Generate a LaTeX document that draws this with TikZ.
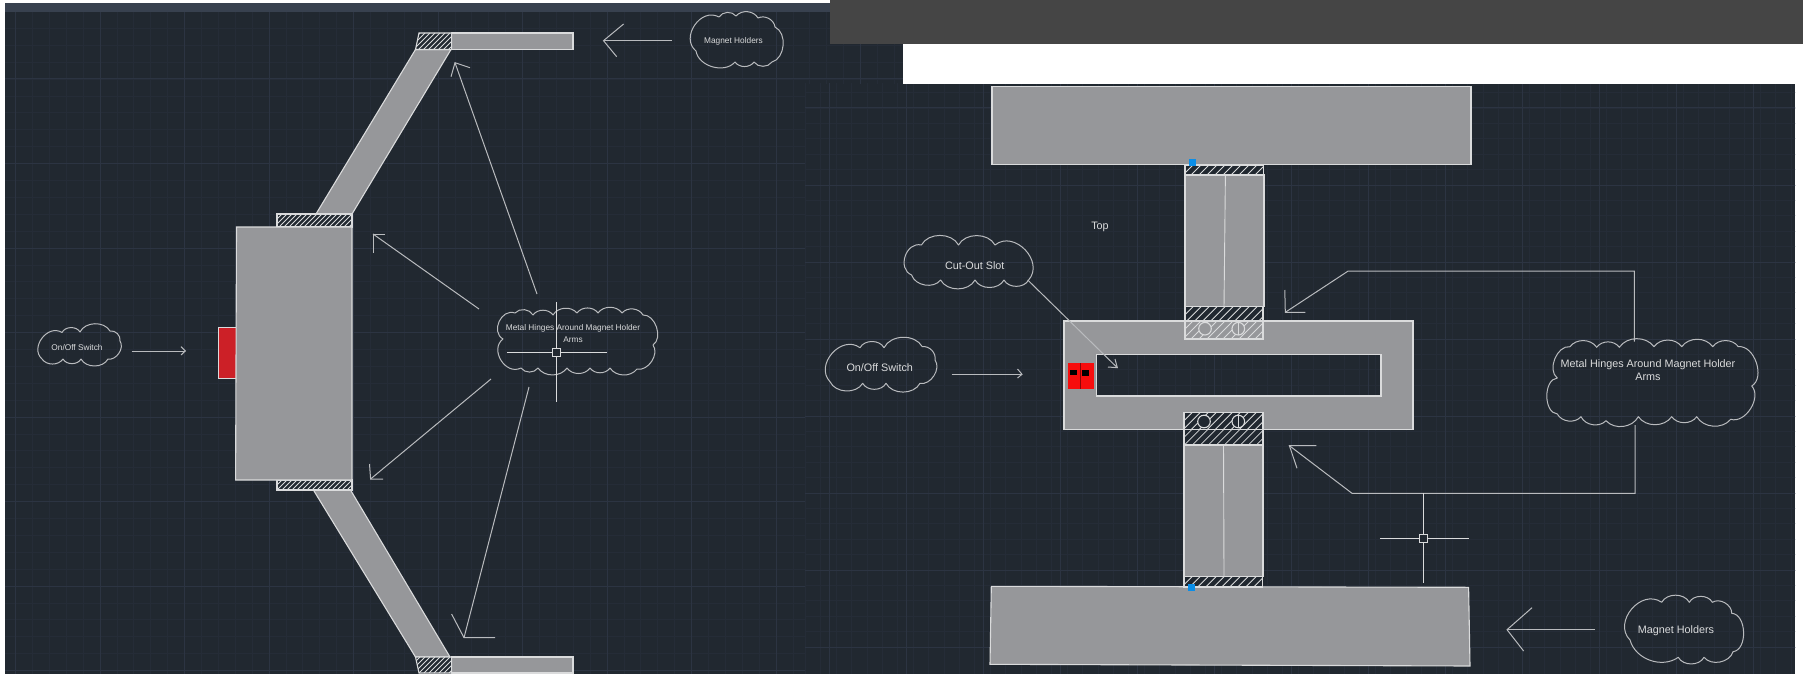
\documentclass[tikz,border=0pt]{standalone}
\usepackage{fontspec}
\setmainfont{Liberation Sans}
\definecolor{panel}{HTML}{212830}
\definecolor{gridmaj}{HTML}{2C3442}
\definecolor{gridmin}{HTML}{252C37}
\definecolor{barcol}{HTML}{38414F}
\definecolor{band}{HTML}{454545}
\definecolor{steel}{HTML}{96979A}
\definecolor{inkline}{HTML}{DADBDC}
\definecolor{softline}{HTML}{B9BBBE}
\definecolor{switchL}{HTML}{CC2027}
\definecolor{switchR}{HTML}{F70D0D}
\definecolor{grip}{HTML}{0A8EE8}
\tikzset{
  part/.style={fill=steel,draw=inkline,line width=1.1pt,line join=miter},
  hatchbg/.style={fill=panel,draw=inkline,line width=1.1pt},
  hatchln/.style={draw=inkline,line width=0.8pt},
  cloudln/.style={draw=softline,line width=1pt,line join=round},
  leadln/.style={draw=softline,line width=1pt,line join=miter},
  smalltxt/.style={text=inkline,inner sep=0pt,text height=6pt,text depth=0pt,font=\fontsize{8.3}{10}\selectfont},
  bigtxt/.style={text=inkline,inner sep=0pt,text height=7.8pt,text depth=0pt,font=\fontsize{10.8}{13}\selectfont},
  cursor/.style={draw=inkline,line width=1pt},
  wide/.style={bend left=85,looseness=1.3},
}
\usetikzlibrary{calc}
% hatching inside a rectangle: x1,y1,x2,y2,spacing
\newcommand{\hatchrect}[5]{%
  \begin{scope}
    \clip (#1,#2) rectangle (#3,#4);
    \pgfmathsetmacro{\hh}{abs(#4-#2)}
    \pgfmathsetmacro{\hs}{#1-\hh}
    \pgfmathsetmacro{\ht}{\hs+#5}
    \pgfmathsetmacro{\he}{#3+1}
    \foreach \q in {\hs,\ht,...,\he}
      \draw[hatchln] (\q,#4) -- ++(\hh,-\hh);
  \end{scope}}
% leader: name, start, tip, barb a, barb b
\newcommand{\leader}[5]{%
  \coordinate (#1-s) at #2;
  \coordinate (#1-t) at #3;
  \coordinate (#1-a) at #4;
  \coordinate (#1-b) at #5;
  \draw[leadln] (#1-s) -- (#1-t);
  \draw[leadln] (#1-a) -- (#1-t) -- (#1-b);}
% crosshair: name, x, y, half-left, half-right, half-up, half-down
\newcommand{\crosshair}[7]{%
  \coordinate (#1) at (#2,#3);
  \draw[cursor] ($(#1)+(-#4,0)$) -- ($(#1)+(#5,0)$);
  \draw[cursor] ($(#1)+(0,-#6)$) -- ($(#1)+(0,#7)$);
  \draw[cursor,fill=panel] ($(#1)+(-4,-4)$) rectangle ($(#1)+(4,4)$);}
\begin{document}
\begin{tikzpicture}[x=1pt,y=-1pt]
\useasboundingbox (0,0) rectangle (1803,674);
\fill[white] (0,0) rectangle (1803,674);
% ---------- left panel
\fill[panel] (5,3) rectangle (903,674);
\begin{scope}
  \clip (5,12) rectangle (903,674);
  \foreach \i in {0,...,53} {
    \draw[gridmin,line width=.7pt] ({15.5+\i*16.9},0) -- ++(0,674);
  }
  \foreach \i in {-1,...,40} {
    \draw[gridmin,line width=.7pt] (0,{-5.5+\i*16.9}) -- ++(903,0);
  }
  \foreach \i in {0,...,10} {
    \draw[gridmaj,line width=1pt] ({15.5+\i*84.5},0) -- ++(0,674);
  }
  \foreach \i in {0,...,8} {
    \draw[gridmaj,line width=1pt] (0,{-5.5+\i*84.5}) -- ++(903,0);
  }
\end{scope}
\fill[barcol] (5,3) rectangle (830,12);
% ---------- right panel
\fill[panel] (805,84) rectangle (1795,674);
\begin{scope}
  \clip (805,84) rectangle (1795,674);
  \foreach \i in {0,...,66} {
    \draw[gridmin,line width=.7pt] ({790+\i*15.4},0) -- ++(0,674);
  }
  \foreach \i in {0,...,40} {
    \draw[gridmin,line width=.7pt] (800,{31+\i*15.4}) -- ++(1000,0);
  }
  \foreach \i in {0,...,13} {
    \draw[gridmaj,line width=1pt] ({829+\i*77},0) -- ++(0,674);
  }
  \foreach \i in {0,...,8} {
    \draw[gridmaj,line width=1pt] (800,{31+\i*77}) -- ++(1000,0);
  }
\end{scope}
% ---------- header blocks
\fill[band] (830,0) rectangle (1803,44);
\fill[white] (903,44) rectangle (1803,84);

% ========== LEFT DRAWING
% arms
\draw[part] (415.5,49.5) -- (451,49.5) -- (352,214) -- (316,214) -- cycle;
\draw[part] (313.4,490) -- (350.5,490) -- (450,657) -- (415.5,657) -- cycle;
% holders
\draw[part] (451.6,33) rectangle (573,49.5);
\draw[part] (451.6,657) rectangle (573,673);
% hatched end pieces
\begin{scope}
  \clip (419,33) -- (451.6,33) -- (451.6,49.5) -- (415.5,49.5) -- cycle;
  \fill[panel] (410,30) rectangle (455,52);
  \hatchrect{410}{33}{452}{49.5}{5}
\end{scope}
\draw[hatchbg,fill=none] (419,33) -- (451.6,33) -- (451.6,49.5) -- (415.5,49.5) -- cycle;
\begin{scope}
  \clip (415.5,657) -- (451.6,657) -- (451.6,673) -- (419,673) -- cycle;
  \fill[panel] (410,655) rectangle (455,674);
  \hatchrect{410}{657}{452}{673}{5}
\end{scope}
\draw[hatchbg,fill=none] (415.5,657) -- (451.6,657) -- (451.6,673) -- (419,673) -- cycle;
% hinges
\draw[hatchbg] (277,214) rectangle (352,227);
\hatchrect{277}{214}{352}{227}{5}
\draw[hatchbg] (277,480) rectangle (352,490);
\hatchrect{277}{480}{352}{490}{5}
% switch and body
\draw[fill=switchL,draw=inkline,line width=1pt] (218,327) rectangle (237,378.5);
\draw[part] (236.5,227) -- (352,227) -- (352,480) -- (235.6,480) -- cycle;

% clouds left
\draw[cloudln] (62,332.5) to[bend left=62] (80,332) to[bend left=62] (110,331) to[bend left=55] (120,341)
  to[bend left=68] (108,359) to[bend left=62] (81,359) to[bend left=62] (63,359) to[bend left=55] (42,359) to[wide] cycle;
\node[smalltxt] (offL) at (77,347) {On/Off Switch};

\draw[cloudln] (719,17) to[bend left=55] (736,16) to[bend left=55] (758,18) to[bend left=55] (775,27)
  to[bend left=70] (772,62) to[bend left=55] (754,62) to[bend left=55] (735,62) to[bend left=65] (696,51) to[wide] cycle;
\node[smalltxt] (magL) at (733.5,40.5) {Magnet Holders};

\draw[cloudln] (515,313) to[bend left=55] (533,315) to[bend left=55] (553,315) to[bend left=55] (577,313)
  to[bend left=55] (598,313) to[bend left=55] (622,313) to[bend left=55] (643,315) to[bend left=75] (653,345)
  to[bend left=70] (637,369) to[bend left=55] (610,368) to[bend left=55] (590,368) to[bend left=55] (567,368)
  to[bend left=55] (538,368) to[bend left=55] (521,368) to[wide] (503,339) to[wide] cycle;
\node[smalltxt] (hingeL1) at (573,327.7) {Metal Hinges Around Magnet Holder};
\node[smalltxt] (hingeL2) at (573,339) {Arms};

% leaders left
\leader{lMag}{(672,40.7)}{(603.5,40.7)}{(623.6,24)}{(616.7,56.7)}
\leader{lUp}{(537,294)}{(455,62.7)}{(470,67.7)}{(451,76.7)}
\leader{lHingeT}{(479,309)}{(373,234)}{(385,234)}{(373,253)}
\leader{lHingeB}{(491,379)}{(370.6,479)}{(369.5,464)}{(383,479)}
\leader{lDown}{(529,387)}{(464,637.7)}{(451.6,614)}{(495,637.7)}
\leader{lOff}{(131.7,351)}{(185.3,351)}{(181,346.7)}{(181,355)}
\crosshair{curL}{556.7}{352.3}{50}{50}{50}{50}

% ========== RIGHT DRAWING
% body with slot (the grid shows through the slot)
\draw[part,even odd rule] (1064,321) rectangle (1413,429.3) (1096.7,354.3) rectangle (1381,396);
\draw[fill=switchR,draw=none] (1068.3,363.3) rectangle (1094,388.7);
\draw[draw=switchR!55!black,line width=.8pt] (1080.7,363.3) -- (1080.7,388.7);
\fill[black] (1070.3,370.3) rectangle (1076.7,374.7);
\fill[black] (1082.3,370.3) rectangle (1088.7,376);
% holders
\draw[part] (992,86.7) rectangle (1471,164.7);
\draw[part] (991.3,586.3) -- (1468.6,587.3) -- (1470,666) -- (990,664.3) -- cycle;
% upper arm
\draw[part] (1185,175) rectangle (1264,306.7);
\draw[draw=inkline,line width=.9pt] (1225.4,175) -- (1224,306.7);
\draw[hatchbg] (1185,165) rectangle (1263.4,175);
\hatchrect{1185}{165}{1263.4}{175}{8}
\draw[hatchbg] (1185,306.7) rectangle (1263,321);
\hatchrect{1185}{306.7}{1263}{321}{8}
\draw[part] (1185,321) rectangle (1263,339);
\hatchrect{1185}{321}{1263}{339}{8}
\draw[part,fill=steel] (1205,328.7) circle (6.3);
\draw[part,fill=steel] (1238.3,328.7) circle (6.3);
\draw[draw=inkline,line width=.9pt] (1238.3,322.4) -- (1238.3,335);
% lower arm
\draw[part] (1184,445) rectangle (1263,576.7);
\draw[draw=inkline,line width=.9pt] (1223.5,445) -- (1224,576.7);
\draw[hatchbg] (1184,412.7) rectangle (1263,429.3);
\hatchrect{1184}{412.7}{1263}{429.3}{8}
\draw[hatchbg] (1184,429.3) rectangle (1263,445);
\hatchrect{1184}{429.3}{1263}{445}{8}
\draw[hatchbg] (1204,421.5) circle (6.3);
\draw[hatchbg] (1238.3,421.5) circle (6.3);
\draw[draw=inkline,line width=.9pt] (1238.3,415.2) -- (1238.3,427.8);
\draw[hatchbg] (1184,576.7) rectangle (1262.6,587);
\hatchrect{1184}{576.7}{1262.6}{587}{8}
% grips
\fill[grip] (1189.3,159) rectangle (1196.4,166);
\fill[grip] (1188.4,583.7) rectangle (1195.4,590.7);

\node[bigtxt] (topL) at (1100,225.7) {Top};

% clouds right
\draw[cloudln] (921.4,245) to[bend left=62] (958.5,245) to[bend left=62] (995,245) to[wide] (1028.6,280)
  to[bend left=62] (1004,280) to[bend left=62] (975,280) to[bend left=62] (940.6,280) to[bend left=62] (911.6,275) to[wide] cycle;
\node[bigtxt] (slotL) at (974.7,265.7) {Cut-Out Slot};

\draw[cloudln] (860,347.7) to[bend left=62] (884,347.7) to[bend left=62] (922.3,346.7) to[bend left=55] (935,360)
  to[bend left=70] (920,383.3) to[bend left=62] (886,383.3) to[bend left=62] (862.7,383.3) to[bend left=62] (830,381.7) to[wide] cycle;
\node[bigtxt] (offR) at (879.7,367.3) {On/Off Switch};

\draw[cloudln] (1570,346.7) to[bend left=55] (1596.7,347.3) to[bend left=55] (1619.3,347.3) to[bend left=55] (1654,346.7)
  to[bend left=55] (1681.7,346.7) to[bend left=55] (1712.7,346.7) to[bend left=55] (1738.3,346.7) to[bend left=78] (1751.7,386)
  to[bend left=75] (1730.7,419.3) to[bend left=55] (1696.7,416.7) to[bend left=55] (1671.7,416.7) to[bend left=55] (1638.3,416.7)
  to[bend left=55] (1606,420.7) to[bend left=55] (1581,416.7) to[bend left=55] (1557.3,414) to[bend left=85] (1557.3,378) to[bend left=75] cycle;
\node[bigtxt] (hingeR1) at (1648,364) {Metal Hinges Around Magnet Holder};
\node[bigtxt] (hingeR2) at (1648,376.7) {Arms};

\draw[cloudln] (1661.7,602.3) to[bend left=62] (1689.3,602.3) to[bend left=62] (1712.3,602.3) to[bend left=62] (1731.7,613.3)
  to[bend left=85] (1733,651.7) to[bend left=62] (1704,657.3) to[bend left=62] (1678.3,657.3) to[bend left=55] (1630,640) to[wide] cycle;
\node[bigtxt] (magR) at (1676,629.3) {Magnet Holders};

% leaders right
\leader{rSlot}{(1027.7,280)}{(1117.3,367.7)}{(1115,359)}{(1108,367)}
\leader{rOff}{(951.6,374.3)}{(1022,374.3)}{(1017.5,369)}{(1017.5,378)}
\leader{rMag}{(1595,629.7)}{(1507,629.7)}{(1532,607.7)}{(1523.6,651)}
\coordinate (rTopS) at (1634.3,341.7);
\coordinate (rTopC) at (1634.3,271);
\coordinate (rTopD) at (1348.2,271);
\coordinate (rTopT) at (1285.3,312.3);
\coordinate (rTopA) at (1284.8,290);
\coordinate (rTopB) at (1305.3,312.3);
\draw[leadln] (rTopS) -- (rTopC) -- (rTopD) -- (rTopT);
\draw[leadln] (rTopA) -- (rTopT) -- (rTopB);
\coordinate (rBotS) at (1635,425);
\coordinate (rBotC) at (1635,493.3);
\coordinate (rBotD) at (1352,493.3);
\coordinate (rBotT) at (1289.4,445.7);
\coordinate (rBotA) at (1316.3,445.7);
\coordinate (rBotB) at (1297,468.3);
\draw[leadln] (rBotS) -- (rBotC) -- (rBotD) -- (rBotT);
\draw[leadln] (rBotA) -- (rBotT) -- (rBotB);
\crosshair{curR}{1423.8}{538.3}{44}{44.8}{45}{44.4}
\end{tikzpicture}
\end{document}
